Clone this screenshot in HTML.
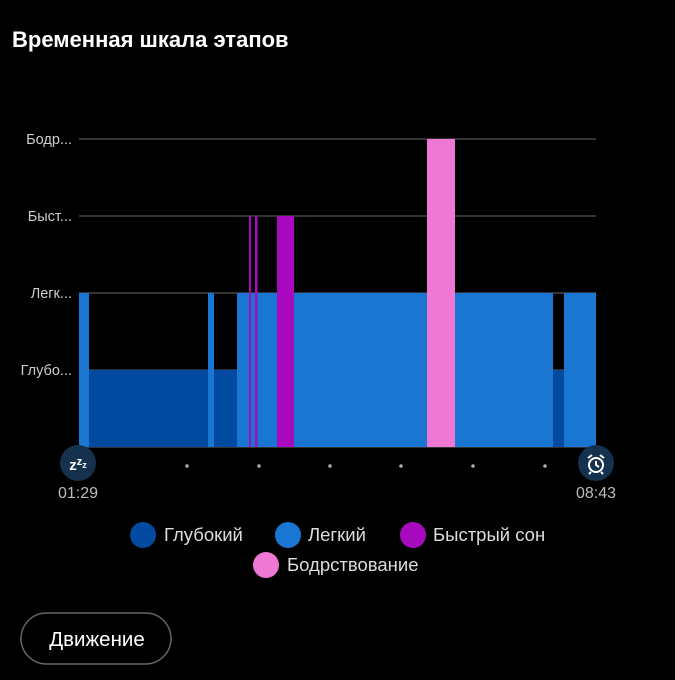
<!DOCTYPE html>
<html><head><meta charset="utf-8"><style>
html,body{margin:0;padding:0;background:#000;width:675px;height:680px;overflow:hidden;font-family:"Liberation Sans","DejaVu Sans",sans-serif;color:#fff}
</style></head><body>
<svg width="675" height="680" xmlns="http://www.w3.org/2000/svg" style="position:absolute;left:0;top:0">
<text x="12" y="47" font-size="22" font-weight="bold" fill="#fff" font-family="Liberation Sans, DejaVu Sans, sans-serif">Временная шкала этапов</text>
<g stroke="#444" stroke-width="1.5">
<line x1="79" y1="139" x2="596" y2="139"/><line x1="79" y1="216" x2="596" y2="216"/>
<line x1="79" y1="293" x2="596" y2="293"/><line x1="79" y1="370" x2="596" y2="370"/>
<line x1="79" y1="447" x2="596" y2="447"/></g>
<g font-size="14.5" fill="#ccc" text-anchor="end" font-family="Liberation Sans, DejaVu Sans, sans-serif">
<text x="72" y="144">Бодр...</text><text x="72" y="221">Быст...</text>
<text x="72" y="298">Легк...</text><text x="72" y="375">Глубо...</text></g>
<rect x="79" y="293" width="10" height="154" fill="#1976d2"/>
<rect x="89" y="370" width="119" height="77" fill="#0249a0"/>
<rect x="208" y="293" width="6" height="154" fill="#1976d2"/>
<rect x="214" y="370" width="23" height="77" fill="#0249a0"/>
<rect x="237" y="293" width="316" height="154" fill="#1976d2"/>
<rect x="553" y="370" width="11" height="77" fill="#0249a0"/>
<rect x="564" y="293" width="32" height="154" fill="#1976d2"/>
<rect x="249" y="216" width="2" height="231" fill="#a80ac0"/>
<rect x="255" y="216" width="2.5" height="231" fill="#a80ac0"/>
<rect x="277" y="216" width="17" height="231" fill="#a80ac0"/>
<rect x="427" y="139" width="28" height="308" fill="#ee78d4"/>
<g fill="#aaa"><circle cx="187" cy="466" r="1.8"/><circle cx="259" cy="466" r="1.8"/><circle cx="330" cy="466" r="1.8"/><circle cx="401" cy="466" r="1.8"/><circle cx="473" cy="466" r="1.8"/><circle cx="545" cy="466" r="1.8"/></g>
<circle cx="78" cy="463" r="18" fill="#15314d"/>
<text x="78" y="470" font-size="15" font-weight="bold" fill="#fff" text-anchor="middle" font-family="Liberation Sans, sans-serif">z<tspan font-size="11" dy="-5">z</tspan><tspan font-size="9" dy="3">z</tspan></text>
<circle cx="596" cy="463" r="18" fill="#15314d"/>
<circle cx="596" cy="465" r="7" fill="none" stroke="#fff" stroke-width="2"/>
<path d="M596 461v4l3 2M588 458l4-3M604 458l-4-3M591 472l-2 2M601 472l2 2" stroke="#fff" stroke-width="2" fill="none"/>
<g font-size="16" fill="#bbb" text-anchor="middle" font-family="Liberation Sans, sans-serif">
<text x="78" y="498">01:29</text><text x="596" y="498">08:43</text></g>
<g font-size="18.5" fill="#ddd" font-family="Liberation Sans, DejaVu Sans, sans-serif">
<circle cx="143" cy="535" r="13" fill="#0249a0"/><text x="164" y="541">Глубокий</text>
<circle cx="288" cy="535" r="13" fill="#1976d2"/><text x="308" y="541">Легкий</text>
<circle cx="413" cy="535" r="13" fill="#a80ac0"/><text x="433" y="541">Быстрый сон</text>
<circle cx="266" cy="565" r="13" fill="#ee78d4"/><text x="287" y="571">Бодрствование</text></g>
<rect x="21" y="613" width="150" height="51" rx="25.5" fill="none" stroke="#666" stroke-width="1.5"/>
<text x="97" y="646" font-size="20.5" fill="#fff" text-anchor="middle" font-family="Liberation Sans, DejaVu Sans, sans-serif">Движение</text>
</svg>
</body></html>
